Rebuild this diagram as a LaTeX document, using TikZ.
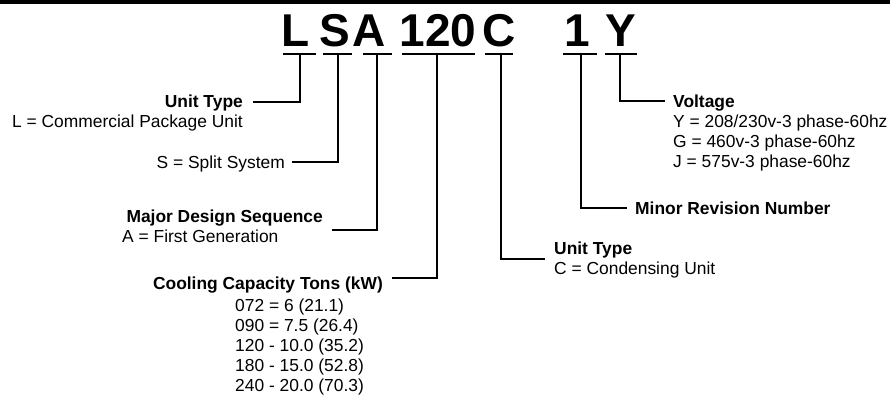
\documentclass[tikz,border=0pt]{standalone}
\usepackage{fontspec}
\setmainfont{Liberation Sans}
\begin{document}
\begin{tikzpicture}[x=1pt,y=-1pt,
  big/.style={font=\fontsize{46}{46}\selectfont\bfseries, inner sep=0pt, anchor=base},
  lbl/.style={font=\fontsize{17.4}{20}\selectfont, inner sep=0pt},
  hd/.style={font=\fontsize{17.4}{20}\selectfont\bfseries, inner sep=0pt},
  bar/.style={line width=1.6pt},
  conn/.style={line width=1.6pt}]
\useasboundingbox (0,0) rectangle (890,396);
\fill[black] (0,0) rectangle (890,4.3);

% code letters
\node[big] (cL) at (296,47) {L};
\node[big] (cS) at (335,47) {S};
\node[big] (cA) at (369,47) {A};
\node[big] (c120) at (438,47) {120};
\node[big] (cC) at (499,47) {C};
\node[big] (c1) at (577,47) {1};
\node[big] (cY) at (621,47) {Y};

% bar midpoints (top of each connector)
\coordinate (tL) at (300,54);
\coordinate (tS) at (338,54);
\coordinate (tA) at (377,54);
\coordinate (t120) at (437,54);
\coordinate (tC) at (501,54);
\coordinate (t1) at (581,54);
\coordinate (tY) at (620,54);

% bars under letters
\draw[bar] ([xshift=-17pt]tL) -- ([xshift=16pt]tL);
\draw[bar] ([xshift=-15pt]tS) -- ([xshift=14pt]tS);
\draw[bar] ([xshift=-14pt]tA) -- ([xshift=15pt]tA);
\draw[bar] ([xshift=-35pt]t120) -- ([xshift=38pt]t120);
\draw[bar] ([xshift=-16pt]tC) -- ([xshift=12pt]tC);
\draw[bar] ([xshift=-18pt]t1) -- ([xshift=16pt]t1);
\draw[bar] ([xshift=-15pt]tY) -- ([xshift=17pt]tY);

% connector free ends
\coordinate (eL) at (253,102);
\coordinate (eS) at (292,162);
\coordinate (eA) at (332,230);
\coordinate (e120) at (392,278);
\coordinate (eC) at (545,259);
\coordinate (e1) at (627,208);
\coordinate (eY) at (665,101);

\draw[conn] (tL) |- (eL);
\draw[conn] (tS) |- (eS);
\draw[conn] (tA) |- (eA);
\draw[conn] (t120) |- (e120);
\draw[conn] (tC) |- (eC);
\draw[conn] (t1) |- (e1);
\draw[conn] (tY) |- (eY);

% labels
\node[hd, anchor=base east] (uL) at (243,107) {Unit Type};
\node[lbl, anchor=base east] (uL2) at (243,127) {L = Commercial Package Unit};

\node[lbl, anchor=base east] (sS) at (285,168) {S = Split System};

\node[hd, anchor=base east] (mA) at (323,222) {Major Design Sequence};
\node[lbl, anchor=base west] (mA2) at (122,242) {A = First Generation};

\node[hd, anchor=base east] (cc) at (383,289) {Cooling Capacity Tons (kW)};
\node[lbl, anchor=base west] (cc1) at (235,311) {072 = 6 (21.1)};
\node[lbl, anchor=base west] (cc2) at (235,331) {090 = 7.5 (26.4)};
\node[lbl, anchor=base west] (cc3) at (235,351) {120 - 10.0 (35.2)};
\node[lbl, anchor=base west] (cc4) at (235,371) {180 - 15.0 (52.8)};
\node[lbl, anchor=base west] (cc5) at (235,391) {240 - 20.0 (70.3)};

\node[hd, anchor=base west] (uC) at (554,254) {Unit Type};
\node[lbl, anchor=base west] (uC2) at (554,274) {C = Condensing Unit};

\node[hd, anchor=base west] (mr) at (635,214) {Minor Revision Number};

\node[hd, anchor=base west] (vY) at (673,107) {Voltage};
\node[lbl, anchor=base west] (vY1) at (673,127) {Y = 208/230v-3 phase-60hz};
\node[lbl, anchor=base west] (vY2) at (673,147) {G = 460v-3 phase-60hz};
\node[lbl, anchor=base west] (vY3) at (673,167) {J = 575v-3 phase-60hz};
\end{tikzpicture}
\end{document}
